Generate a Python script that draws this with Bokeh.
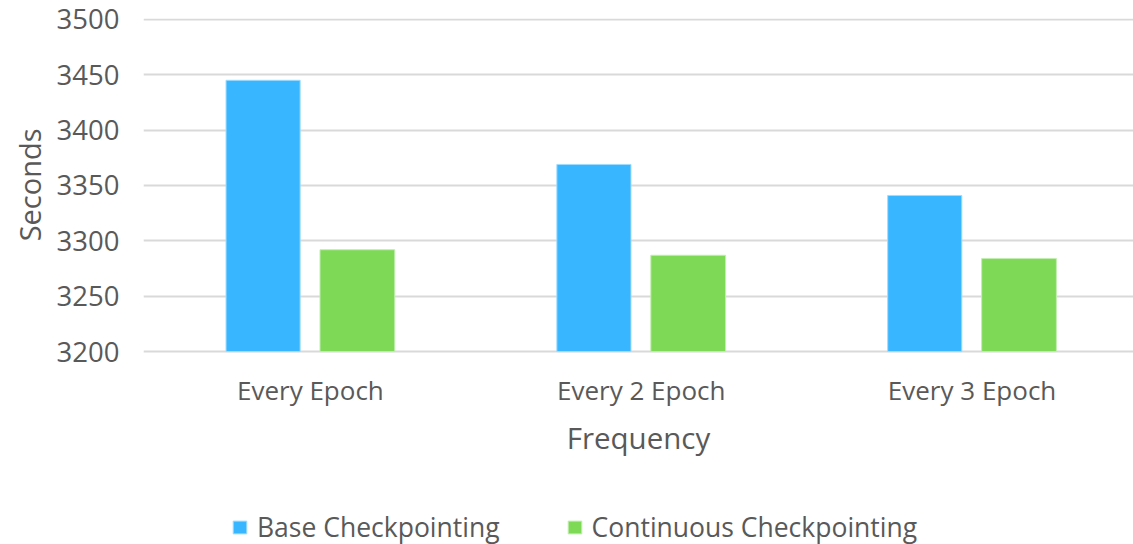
from bokeh.plotting import figure
from bokeh.models import (ColumnDataSource, FixedTicker, Range1d, Legend, LegendItem, Title)
from bokeh.transform import dodge
from bokeh.embed import file_html
from bokeh.resources import INLINE

categories = ["Every Epoch", "Every 2 Epoch", "Every 3 Epoch"]
base_checkpointing = [3445, 3369, 3341]
continuous_checkpointing = [3292, 3287, 3284]
series_names = ["Base Checkpointing", "Continuous Checkpointing"]
y_ticks = [3200, 3250, 3300, 3350, 3400, 3450, 3500]

FONT = "Open Sans"
TXT = "#595959"

xs = list(range(len(categories)))
src = ColumnDataSource(dict(x=xs, base=base_checkpointing, cont=continuous_checkpointing))

# frame spans top (y=18) to bottom of page; 3200..3500 occupies y=19..351
p = figure(width=1133, height=544, output_backend="svg", toolbar_location=None,
           x_range=Range1d(-0.5045, 2.488), y_range=Range1d(3025.8, 3500.8))
p.min_border_left = 143
p.min_border_right = 0
p.min_border_top = 18
p.min_border_bottom = 0
p.outline_line_color = None
p.background_fill_color = "white"
p.border_fill_color = "white"

r1 = p.vbar(x=dodge("x", -0.143), top="base", bottom=y_ticks[0], width=0.224, source=src,
            fill_color="#38B6FF", line_color="#9fdcff", line_width=1)
r2 = p.vbar(x=dodge("x", 0.142), top="cont", bottom=y_ticks[0], width=0.226, source=src,
            fill_color="#7ED957", line_color="#c2eeb0", line_width=1)

# y axis
p.yaxis.ticker = FixedTicker(ticks=y_ticks)
p.yaxis.axis_line_color = None
p.yaxis.major_tick_line_color = None
p.yaxis.minor_tick_line_color = None
p.yaxis.major_tick_out = 0
p.yaxis.minor_tick_out = 0
p.yaxis.major_label_text_font = FONT
p.yaxis.major_label_text_font_size = "27.5px"
p.yaxis.major_label_text_color = TXT
p.yaxis.major_label_standoff = 24

# y axis title, placed along the 3200..3500 band
ytitle = Title(text="Seconds", align="right", offset=110, standoff=10,
               text_font=FONT, text_font_size="29px", text_font_style="normal",
               text_color=TXT)
p.add_layout(ytitle, "left")

# x axis pinned at the 3200 baseline
p.xaxis.fixed_location = y_ticks[0]
p.xaxis.ticker = FixedTicker(ticks=xs)
p.xaxis.major_label_overrides = {i: c for i, c in enumerate(categories)}
p.xaxis.axis_line_color = None
p.xaxis.major_tick_line_color = None
p.xaxis.minor_tick_line_color = None
p.xaxis.major_tick_out = 0
p.xaxis.minor_tick_out = 0
p.xaxis.major_label_text_font = FONT
p.xaxis.major_label_text_font_size = "26px"
p.xaxis.major_label_text_color = TXT
p.xaxis.major_label_standoff = 20
p.xaxis.axis_label = "Frequency"
p.xaxis.axis_label_text_font = FONT
p.xaxis.axis_label_text_font_size = "29.5px"
p.xaxis.axis_label_text_font_style = "normal"
p.xaxis.axis_label_text_color = TXT
p.xaxis.axis_label_standoff = 6

p.xgrid.grid_line_color = None
p.ygrid.grid_line_color = "#d9d9d9"
p.ygrid.grid_line_width = 2

legend = Legend(items=[LegendItem(label=series_names[0], renderers=[r1]),
                       LegendItem(label=series_names[1], renderers=[r2])],
                orientation="horizontal", location=(88, -1),
                label_text_font=FONT, label_text_font_size="26.5px", label_text_color=TXT,
                glyph_width=17, glyph_height=16, spacing=66, label_standoff=9,
                border_line_color=None, background_fill_alpha=0, padding=0, margin=0)
p.add_layout(legend, "center")

open("out.html", "w").write(file_html(p, INLINE))
